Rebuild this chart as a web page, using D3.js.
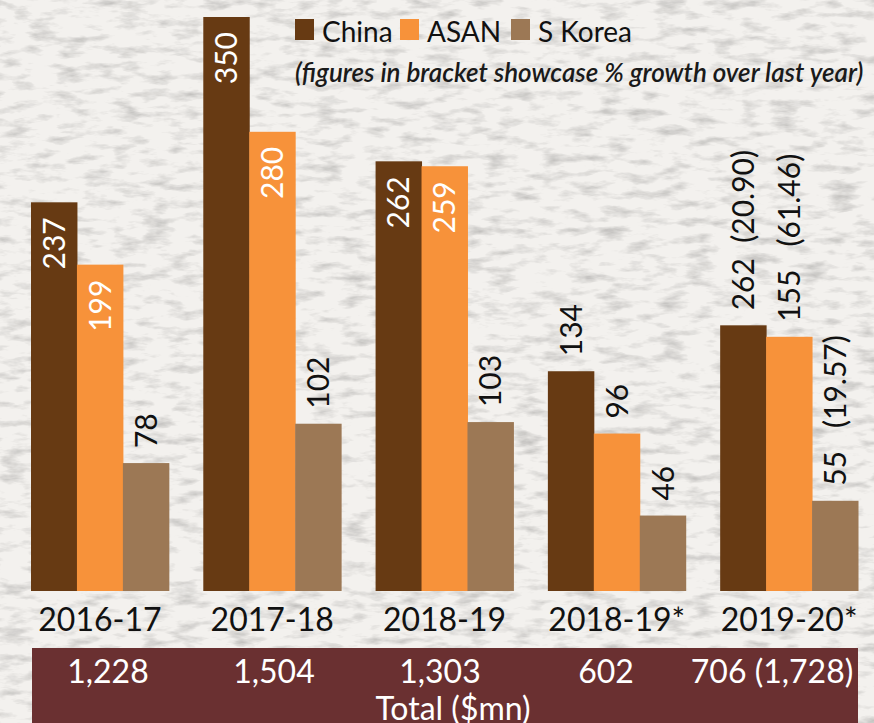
<!DOCTYPE html>
<html>
<head>
<meta charset="utf-8">
<script src="https://cdn.jsdelivr.net/npm/d3@7"></script>
<style>
  body { margin: 0; background: #ebe9e6; }
  svg { display: block; font-family: Lato, "Open Sans", sans-serif; }
</style>
</head>
<body>
<div class="chart"></div>
<script>
// Width and height
var w = 874;
var h = 723;

// Chart data
var years = ["2016-17", "2017-18", "2018-19", "2018-19*", "2019-20*"];
var series = ["China", "ASAN", "S Korea"];
var china = [237, 350, 262, 134, 162];
var asan = [199, 280, 259, 96, 155];
var skorea = [78, 102, 103, 46, 55];
// printed labels (the 2019-20* ones carry growth % in brackets)
var chinaLabels = ["237", "350", "262", "134", "262  (20.90)"];
var asanLabels = ["199", "280", "259", "96", "155   (61.46)"];
var skoreaLabels = ["78", "102", "103", "46", "55   (19.57)"];
var totals = ["1,228", "1,504", "1,303", "602", "706 (1,728)"];
var colours = ["#673a13", "#f7923a", "#9c7855"];

var margin = {top: 17, right: 16, bottom: 132, left: 31};
var baseY = h - margin.bottom;

var svg = d3.select(".chart")
    .append("svg")
    .attr("width", w)
    .attr("height", h);

// paper texture background
var defs = svg.append("defs");
var paper = defs.append("filter").attr("id", "paper")
    .attr("x", 0).attr("y", 0).attr("width", "100%").attr("height", "100%");
paper.append("feTurbulence")
    .attr("type", "fractalNoise")
    .attr("baseFrequency", "0.035 0.11")
    .attr("numOctaves", 4)
    .attr("seed", 7);
paper.append("feColorMatrix")
    .attr("type", "matrix")
    .attr("values", "0 0 0 0 0  0 0 0 0 0  0 0 0 0 0  0 0 0 -2.2 1.15");
svg.append("rect").attr("width", w).attr("height", h).attr("fill", "#f3f1ee");
svg.append("rect").attr("width", w).attr("height", h)
    .attr("filter", "url(#paper)").attr("opacity", 0.2);

// scales
var xScale = d3.scaleBand()
    .domain(years)
    .range([margin.left, w - margin.right])
    .paddingInner(0.2);

var xSub = d3.scaleBand()
    .domain(series)
    .range([0, xScale.bandwidth()]);

var yScale = d3.scaleLinear()
    .domain([0, 350])
    .range([baseY, margin.top]);

var rows = years.map(function(y, i) {
    return [
        {year: y, key: "China", value: china[i], label: chinaLabels[i]},
        {year: y, key: "ASAN", value: asan[i], label: asanLabels[i]},
        {year: y, key: "S Korea", value: skorea[i], label: skoreaLabels[i]}
    ];
});

var groups = svg.selectAll("g.group")
    .data(rows)
    .enter()
    .append("g")
    .attr("class", "group")
    .attr("transform", function(d, i) { return "translate(" + xScale(years[i]) + ",0)"; });

groups.selectAll("rect")
    .data(function(d) { return d; })
    .enter()
    .append("rect")
    .attr("x", function(d) { return xSub(d.key); })
    .attr("y", function(d) { return yScale(d.value); })
    .attr("width", xSub.bandwidth() + 0.5)
    .attr("height", function(d) { return baseY - yScale(d.value); })
    .attr("fill", function(d, i) { return colours[i]; });

// value labels, rotated; inside the bar when the bar is tall enough
function inside(d) { return d.key != "S Korea" && d.value > 180; }

groups.selectAll("text.val")
    .data(function(d) { return d; })
    .enter()
    .append("text")
    .attr("class", "val")
    .attr("transform", function(d) {
        var cx = xSub(d.key) + xSub.bandwidth() / 2;
        var ty = inside(d) ? yScale(d.value) + 15 : yScale(d.value) - 15;
        return "translate(" + cx + "," + ty + ") rotate(-90)";
    })
    .attr("text-anchor", function(d) { return inside(d) ? "end" : "start"; })
    .attr("dy", "0.36em")
    .style("font-size", "30px")
    .style("white-space", "pre")
    .attr("fill", function(d) { return inside(d) ? "#ffffff" : "#111111"; })
    .text(function(d) { return d.label; });

// x axis labels
var xAxis = d3.axisBottom(xScale).tickSize(0).tickPadding(17);
svg.append("g")
    .attr("class", "x-axis")
    .attr("transform", "translate(0," + baseY + ")")
    .call(xAxis)
    .call(function(g) { g.select(".domain").remove(); })
    .selectAll("text")
    .attr("fill", "#111")
    .style("font-family", "Lato, sans-serif")
    .style("font-size", "32px");

// totals band
var band = {x0: 32, x1: 858, y0: 648};
svg.append("rect")
    .attr("x", band.x0)
    .attr("y", band.y0)
    .attr("width", band.x1 - band.x0)
    .attr("height", h - band.y0)
    .attr("fill", "#6a3031");

var colScale = d3.scalePoint().domain(years).range([108, 772]);
svg.selectAll("text.total")
    .data(totals)
    .enter()
    .append("text")
    .attr("class", "total")
    .attr("x", function(d, i) { return colScale(years[i]); })
    .attr("y", 683)
    .attr("text-anchor", "middle")
    .attr("fill", "#fff")
    .style("font-size", "32px")
    .text(function(d) { return d; });

svg.append("text")
    .attr("x", 453)
    .attr("y", 720)
    .attr("text-anchor", "middle")
    .attr("fill", "#fff")
    .style("font-size", "32px")
    .text("Total ($mn)");

// legend
var legendX = [295, 400, 511];
var legend = svg.selectAll("g.legend")
    .data(series)
    .enter()
    .append("g")
    .attr("class", "legend")
    .attr("transform", function(d, i) { return "translate(" + legendX[i] + ",19)"; });
legend.append("rect")
    .attr("width", 19)
    .attr("height", 21)
    .attr("fill", function(d, i) { return colours[i]; });
legend.append("text")
    .attr("x", 27)
    .attr("y", 23)
    .style("font-size", "28px")
    .attr("fill", "#111")
    .text(function(d) { return d; });

svg.append("text")
    .attr("x", 295)
    .attr("y", 82)
    .style("font-size", "26px")
    .style("font-style", "italic")
    .style("font-weight", 600)
    .attr("fill", "#1a1a1a")
    .text("(figures in bracket showcase % growth over last year)");
</script>
</body>
</html>
